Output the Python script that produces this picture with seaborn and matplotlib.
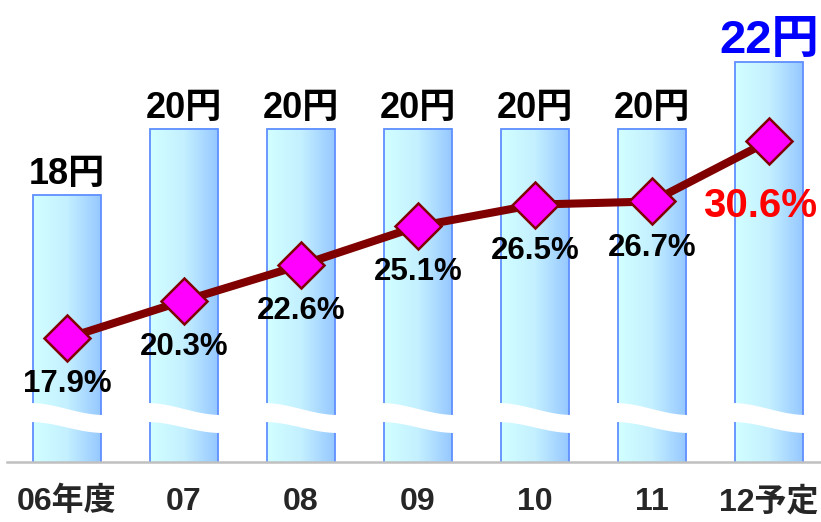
import numpy as np
import pandas as pd
import matplotlib
matplotlib.use("Agg")
import matplotlib.pyplot as plt
import seaborn as sns
from matplotlib.colors import LinearSegmentedColormap

# Annual dividend per share and payout ratio
years = ["06年度", "07", "08", "09", "10", "11", "12予定"]
dividend = [18, 20, 20, 20, 20, 20, 22]
dividend_labels = ["18円", "20円", "20円", "20円", "20円", "20円", "22円"]
payout = [17.9, 20.3, 22.6, 25.1, 26.5, 26.7, 30.6]
payout_labels = ["17.9%", "20.3%", "22.6%", "25.1%", "26.5%", "26.7%", "30.6%"]

sns.set_theme(style="white")
plt.rcParams["font.family"] = ["Liberation Sans", "Noto Sans CJK JP"]
plt.rcParams["font.weight"] = "bold"

df = pd.DataFrame({"year": years, "dividend": dividend, "payout": payout,
                   "pos": np.arange(len(years))})

fig = plt.figure(figsize=(8.21, 5.22), dpi=100)
ax = fig.add_axes([7 / 821, 60 / 522, 814 / 821, 462 / 522])

# Dividend bars (axis is broken: it starts at 10 yen)
sns.barplot(data=df, x="year", y="dividend", ax=ax, width=0.58,
            color="#99CCFF", saturation=1)

bar_ylim = (10, 23.86)
ax.set_ylim(*bar_ylim)

grad_cmap = LinearSegmentedColormap.from_list("bar", ["#D2FFFF", "#C4F0FF", "#96C8FF"])
grad = np.linspace(0, 1, 256).reshape(1, -1)
for p in list(ax.patches):
    x0, w, h = p.get_x(), p.get_width(), p.get_height()
    ax.imshow(grad, extent=[x0, x0 + w, bar_ylim[0] - 1, h], aspect="auto",
              cmap=grad_cmap, zorder=1, interpolation="bicubic")
    p.set_facecolor("none")
    p.set_edgecolor("#5F8FFF")
    p.set_linewidth(1.3)
    p.set_zorder(2)

    # wavy white band marking the axis break
    t = np.linspace(0, 1, 60)
    s = (1 - np.cos(np.pi * t)) / 2
    xs = x0 - 0.03 + (w + 0.06) * t
    top = 11.77 - 0.36 * s
    bot = 11.20 - 0.33 * s
    ax.fill(np.r_[xs, xs[::-1]], np.r_[top, bot[::-1]], color="white",
            lw=0, zorder=3)

# Dividend labels
for i, (v, lab) in enumerate(zip(dividend, dividend_labels)):
    last = i == len(dividend) - 1
    ax.annotate(lab, xy=(i, v), xytext=(0, 6.5 if last else 8),
                textcoords="offset points", ha="center", va="baseline",
                fontsize=34 if last else 26, fontweight="bold",
                color="#0000FF" if last else "black")

# Payout ratio line on secondary axis
ax2 = ax.twinx()
sns.lineplot(data=df, x="pos", y="payout", ax=ax2, color="#800000",
             linewidth=5.8, marker="D", markersize=23,
             markerfacecolor="#FF00FF", markeredgecolor="#800000",
             markeredgewidth=1.8, zorder=5)
ax2.set_ylim(9.905, 39.69)

for i, (v, lab) in enumerate(zip(payout, payout_labels)):
    last = i == len(payout) - 1
    ax2.annotate(lab, xy=(i, v), xytext=(-6.5, -55) if last else (0, -39),
                 textcoords="offset points", ha="center", va="baseline",
                 fontsize=29 if last else 22.5, fontweight="bold",
                 color="#FF0000" if last else "black")

ax.set_xlim(-0.513, 6.444)
ax.set_xticks(range(len(years)))
ax.set_xticklabels(years, fontsize=23, fontweight="bold")
ax.tick_params(axis="x", length=0, pad=18)
ax.set_yticks([])
ax2.set_yticks([])
ax.set_xlabel("")
ax.set_ylabel("")
ax2.set_xlabel("")
ax2.set_ylabel("")

for a in (ax, ax2):
    for side in ("top", "left", "right"):
        a.spines[side].set_visible(False)
ax2.spines["bottom"].set_visible(False)
ax.spines["bottom"].set_color("#C0C0C0")
ax.spines["bottom"].set_linewidth(1.8)
ax.spines["bottom"].set_zorder(4)

fig.savefig("out.png", dpi=100)
